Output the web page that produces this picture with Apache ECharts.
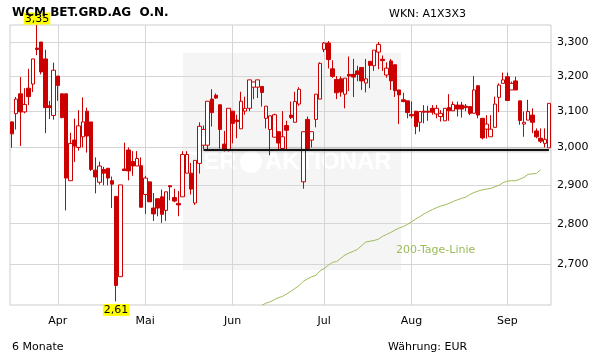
<!DOCTYPE html>
<html><head><meta charset="utf-8">
<script src="https://cdn.jsdelivr.net/npm/echarts@6.0.0/dist/echarts.min.js"></script>
<style>html,body{margin:0;padding:0;background:#fff}#c{width:611px;height:364px}</style>
</head><body><div id="c"></div>
<script>
// ---- data (prices in EUR) ----
const open = [3.070,3.093,3.149,3.098,3.165,3.177,3.282,3.300,3.250,3.115,
3.088,3.200,3.149,3.149,2.911,3.020,3.000,3.029,3.100,3.070,
2.939,2.907,2.941,2.944,2.911,2.870,2.669,2.942,2.993,2.962,
2.950,2.951,2.875,2.908,2.840,2.864,2.869,2.834,2.898,2.867,
2.852,2.869,2.931,2.931,2.853,2.957,3.006,3.006,3.134,3.145,
3.118,3.009,2.993,3.100,3.075,3.051,3.100,3.108,3.168,3.168,
3.170,3.080,3.049,3.028,3.043,2.997,3.060,3.089,3.069,3.120,
2.908,3.077,3.020,3.077,3.134,3.278,3.297,3.221,3.190,3.192,
3.148,3.205,3.205,3.215,3.225,3.180,3.243,3.230,3.270,3.249,
3.203,3.244,3.233,3.160,3.132,3.129,3.091,3.100,3.069,3.100,
3.100,3.108,3.092,3.085,3.073,3.110,3.101,3.117,3.117,3.114,
3.113,3.094,3.172,3.080,3.050,3.029,3.055,3.139,3.179,3.198,
3.160,3.186,3.129,3.064,3.075,3.089,3.045,3.025,3.011,2.999];
const close = [3.037,3.134,3.098,3.119,3.141,3.250,3.278,3.212,3.110,3.110,
3.217,3.173,3.082,2.918,3.011,3.004,3.059,3.070,3.031,2.941,
2.921,2.950,2.931,2.918,2.902,2.648,2.900,2.938,2.937,2.950,
2.970,2.842,2.918,2.856,2.825,2.840,2.824,2.882,2.895,2.858,
2.848,2.981,2.981,2.889,2.965,3.058,3.049,3.128,3.096,3.137,
3.049,2.993,3.108,3.066,3.071,3.128,3.108,3.189,3.183,3.189,
3.153,3.114,3.087,3.090,3.012,3.029,3.047,3.082,3.127,3.162,
3.043,2.997,3.043,3.148,3.237,3.297,3.248,3.199,3.152,3.154,
3.194,3.200,3.197,3.205,3.186,3.192,3.231,3.276,3.293,3.245,
3.223,3.186,3.158,3.146,3.127,3.096,3.087,3.057,3.099,3.097,
3.097,3.097,3.108,3.094,3.108,3.101,3.119,3.106,3.106,3.110,
3.094,3.160,3.089,3.026,3.064,3.050,3.120,3.174,3.189,3.130,
3.179,3.160,3.074,3.069,3.099,3.069,3.029,3.017,3.022,3.122];
const low = [2.999,3.049,3.004,3.094,3.117,3.154,3.261,3.205,3.039,3.078,
3.076,3.129,3.080,2.834,2.911,2.961,2.991,3.000,2.986,2.937,
2.878,2.901,2.899,2.899,2.840,2.610,2.669,2.938,2.912,2.924,
2.950,2.842,2.825,2.856,2.807,2.819,2.802,2.807,2.860,2.855,
2.819,2.869,2.931,2.875,2.848,2.930,2.995,2.993,3.057,3.135,
2.997,2.989,2.989,3.011,3.025,3.051,3.090,3.100,3.134,3.137,
3.113,3.052,2.979,3.028,2.993,2.997,2.993,3.078,3.069,3.115,
2.890,2.993,3.000,3.055,3.134,3.270,3.222,3.195,3.134,3.141,
3.108,3.157,3.140,3.185,3.160,3.153,3.165,3.215,3.220,3.215,
3.195,3.160,3.140,3.064,3.125,3.080,3.080,3.036,3.043,3.066,
3.073,3.090,3.080,3.071,3.073,3.073,3.101,3.085,3.082,3.100,
3.089,3.094,3.080,3.022,3.024,3.029,3.055,3.097,3.179,3.130,
3.160,3.160,3.062,3.029,3.075,3.039,3.025,3.012,3.000,2.999];
const high = [3.072,3.140,3.197,3.165,3.221,3.250,3.351,3.300,3.277,3.129,
3.239,3.200,3.149,3.149,3.040,3.079,3.103,3.139,3.110,3.070,
2.973,2.962,2.948,2.944,2.922,2.870,2.900,3.013,3.000,2.990,
2.990,2.973,2.924,2.908,2.879,2.864,2.888,2.882,2.898,2.890,
2.884,2.990,2.990,2.958,2.965,3.069,3.060,3.128,3.162,3.150,
3.118,3.045,3.108,3.100,3.090,3.155,3.141,3.189,3.183,3.189,
3.170,3.114,3.087,3.093,3.043,3.100,3.073,3.127,3.155,3.168,
3.043,3.085,3.043,3.148,3.240,3.300,3.303,3.246,3.200,3.199,
3.194,3.257,3.250,3.230,3.225,3.250,3.243,3.276,3.300,3.260,
3.240,3.250,3.233,3.160,3.152,3.129,3.127,3.100,3.099,3.117,
3.115,3.117,3.117,3.103,3.108,3.148,3.127,3.127,3.126,3.120,
3.113,3.200,3.174,3.080,3.089,3.089,3.141,3.179,3.210,3.210,
3.184,3.198,3.129,3.099,3.132,3.108,3.052,3.052,3.052,3.122];
// 200-day line, visible from trading day index 60 to 127
const ma200Start = 60;
const ma200 = [2.601,2.606,2.609,2.614,2.619,2.622,2.628,2.634,2.641,2.648,
2.658,2.664,2.669,2.672,2.683,2.689,2.697,2.704,2.706,2.714,
2.722,2.727,2.731,2.736,2.745,2.754,2.756,2.758,2.761,2.768,
2.773,2.778,2.784,2.789,2.793,2.798,2.805,2.812,2.818,2.825,
2.831,2.836,2.841,2.845,2.848,2.852,2.857,2.861,2.865,2.868,
2.875,2.880,2.884,2.887,2.889,2.891,2.895,2.899,2.906,2.910,
2.911,2.911,2.915,2.920,2.928,2.929,2.930,2.940];
const categories = open.map((_, i) => 'Tag ' + (i + 1));
const monthStartIdx = [11, 32, 53, 75, 96, 119];
const monthNames = ['Apr', 'Mai', 'Jun', 'Jul', 'Aug', 'Sep'];
const yTicks = [2.7, 2.8, 2.9, 3.0, 3.1, 3.2, 3.3];
const yTickLabels = ['2,700', '2,800', '2,900', '3,000', '3,100', '3,200', '3,300'];
const yRange = [2.6016, 3.3512];
const highIdx = 6, highLabel = '3,35';
const lowIdx = 25, lowLabel = '2,61';
const supportLevel = 2.993, supportFromIdx = 46;

// ---- build ----
const L = Math.log;
const candleData = categories.map((_, i) => [L(open[i]), L(close[i]), L(low[i]), L(high[i])]);
const maData = categories.map((_, i) => {
  const k = i - ma200Start;
  return (k >= 0 && k < ma200.length) ? L(ma200[k]) : '-';
});
const tickLogs = yTicks.map(L);
const isMonth = (i) => monthStartIdx.indexOf(i) >= 0;
const FONT = '"DejaVu Sans", Verdana, sans-serif';
const RED = '#cc0000', GREEN = '#9bbb59', GRID = '#d6d6d6';

const chart = echarts.init(document.getElementById('c'), null, {renderer: 'canvas'});
chart.setOption({
  animation: false,
  backgroundColor: '#ffffff',
  textStyle: {fontFamily: FONT},
  grid: {left: 10, right: 60, top: 25, bottom: 59, show: true, borderColor: '#cccccc', borderWidth: 1, backgroundColor: 'transparent'},
  xAxis: {
    type: 'category', data: categories, boundaryGap: true,
    axisLine: {show: false}, axisTick: {show: false},
    axisLabel: {interval: (i) => isMonth(i), formatter: (v, i) => monthNames[monthStartIdx.indexOf(i)] || '',
      margin: 11, fontSize: 11, color: '#000', fontFamily: FONT},
    splitLine: {show: true, interval: (i) => isMonth(i), alignWithLabel: true, lineStyle: {color: GRID, width: 1}}
  },
  yAxis: {
    type: 'value', position: 'right', min: L(yRange[0]), max: L(yRange[1]),
    axisLine: {show: false},
    axisTick: {show: false, customValues: tickLogs},
    axisLabel: {customValues: tickLogs, margin: 6, fontSize: 11, color: '#000', fontFamily: FONT,
      formatter: (v) => { for (let i = 0; i < tickLogs.length; i++) if (Math.abs(tickLogs[i] - v) < 1e-6) return yTickLabels[i]; return ''; }},
    splitLine: {show: true, lineStyle: {color: GRID, width: 1}}
  },
  graphic: [
    {type: 'rect', shape: {x: 183, y: 53, width: 218, height: 217}, style: {fill: '#f5f5f5'}, z: -5, silent: true},
    {type: 'text', x: 186, y: 162, style: {text: 'DER', font: 'bold 24px "Liberation Sans"', fill: '#ffffff', verticalAlign: 'middle'}, z: -4, silent: true},
    {type: 'circle', shape: {cx: 251, cy: 162, r: 11}, style: {fill: '#ffffff'}, z: -4, silent: true},
    {type: 'text', x: 265, y: 162, style: {text: 'AKTIONÄR', font: 'bold 24px "Liberation Sans"', fill: '#ffffff', verticalAlign: 'middle'}, z: -4, silent: true},
    {type: 'text', x: 12, y: 13, style: {text: 'WCM BET.GRD.AG  O.N.', font: 'bold 12px "DejaVu Sans"', fill: '#000', verticalAlign: 'middle'}, z: 10},
    {type: 'text', x: 389, y: 14, style: {text: 'WKN: A1X3X3', font: '11px "DejaVu Sans"', fill: '#000', verticalAlign: 'middle'}, z: 10},
    {type: 'text', x: 12, y: 347, style: {text: '6 Monate', font: '11px "DejaVu Sans"', fill: '#000', verticalAlign: 'middle'}, z: 10},
    {type: 'text', x: 388, y: 347, style: {text: 'Währung: EUR', font: '11px "DejaVu Sans"', fill: '#000', verticalAlign: 'middle'}, z: 10},
    {type: 'text', x: 396, y: 250, style: {text: '200-Tage-Linie', font: '11px "DejaVu Sans"', fill: GREEN, verticalAlign: 'middle'}, z: 10}
  ],
  series: [
    {
      name: '200-Tage-Linie', type: 'line', data: maData, showSymbol: false, symbol: 'none',
      lineStyle: {color: GREEN, width: 1}, z: 1, silent: true
    },
    {
      name: 'WCM', type: 'candlestick', data: candleData, barWidth: 4, z: 3,
      itemStyle: {color: '#ffffff', color0: RED, borderColor: RED, borderColor0: RED, borderWidth: 1},
      markLine: {
        silent: true, symbol: ['none', 'none'], label: {show: false},
        lineStyle: {color: '#111111', width: 2, type: 'solid', shadowColor: 'rgba(0,0,0,0.45)', shadowBlur: 3},
        data: [[{coord: [supportFromIdx, L(supportLevel)]}, {coord: [categories.length - 1, L(supportLevel)]}]]
      },
      markPoint: {
        symbol: 'rect', symbolSize: 1, itemStyle: {color: 'transparent'}, silent: true,
        label: {show: true, color: '#000', fontSize: 11, fontFamily: FONT, backgroundColor: '#ffff00', padding: [1, 1, 0, 1]},
        data: [
          {coord: [highIdx, L(high[highIdx])], label: {position: 'top', distance: 0, formatter: highLabel}},
          {coord: [lowIdx, L(low[lowIdx])], label: {position: 'bottom', distance: 2, formatter: lowLabel}}
        ]
      }
    }
  ]
});
</script></body></html>
